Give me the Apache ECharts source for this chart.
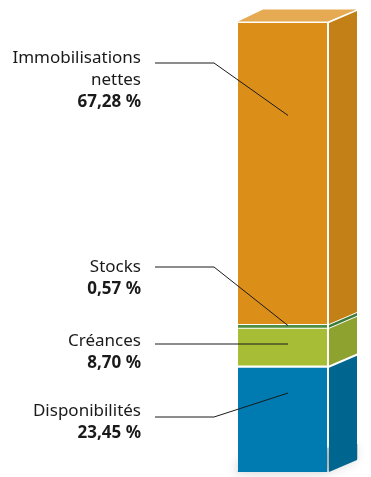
<!DOCTYPE html>
<html>
<head>
<meta charset="utf-8">
<script src="https://cdn.jsdelivr.net/npm/echarts@6/dist/echarts.min.js"></script>
<style>html,body{margin:0;padding:0;background:#fff;}#c{width:371px;height:477px;}</style>
</head>
<body>
<div id="c"></div>
<script>
// Data (bottom to top)
var categories = ['Disponibilités', 'Créances', 'Stocks', 'Immobilisations nettes'];
var nameLines = [['Disponibilités'], ['Créances'], ['Stocks'], ['Immobilisations', 'nettes']];
var values = [23.45, 8.70, 0.57, 67.28];
var valueLabels = ['23,45 %', '8,70 %', '0,57 %', '67,28 %'];

// styling / layout (not data)
var frontColors = ['#007bb1', '#a8bd36', '#4e8d3f', '#db8f19'];
var sideColors  = ['#006690', '#8ea22f', '#3f7a38', '#c38017'];
var topColor = '#e5aa52';
var labelLineY = [417, 344, 267, 63];
var labelTextY = [411, 341, 267, 58];
var anchorFrac = [0.75, 0.59, 0.8, 0.694];

var rows = [];
var acc = 0;
for (var i = 0; i < values.length; i++) {
  rows.push([0, acc, acc + values[i], i]);
  acc += values[i];
}

var DX = 28, DY = 12, GAP = 2;
var FONT = '"Noto Sans", sans-serif';

var chart = echarts.init(document.getElementById('c'), null, {renderer: 'canvas'});
chart.setOption({
  animation: false,
  grid: {left: 238, right: 44, top: 23, bottom: 5},
  xAxis: {type: 'category', data: ['Actif'], show: false},
  yAxis: {type: 'value', min: 0, max: 100, show: false},
  series: [{
    type: 'custom',
    data: rows,
    renderItem: function (params, api) {
      var idx = api.value(3);
      var pB = api.coord([0, api.value(1)]);
      var pT = api.coord([0, api.value(2)]);
      var bw = api.size([1, 0])[0];
      var xl = pB[0] - bw / 2, xr = pB[0] + bw / 2;
      var yb = pB[1], yt = pT[1];
      var children = [];
      if (idx === 0) {
        children.push({
          type: 'polygon',
          z2: 0,
          shape: {points: [[xl - 1, yb], [xr, yb], [xr + GAP + DX + 1, yb - DY - 1], [xr + GAP + DX + 1, yb - DY - 16], [xl + 6, yb - 14]]},
          style: {fill: 'rgba(120,120,120,0.35)', shadowBlur: 12, shadowOffsetX: -3, shadowOffsetY: 1, shadowColor: 'rgba(0,0,0,0.5)'}
        });
      }
      var top = (idx === values.length - 1);
      var thin = (yb - yt) < 6;
      var gt = (top || thin) ? 0 : 1.1;
      var gb = (idx === 0 || thin) ? 0 : 1.1;
      children.push({
        type: 'rect', z2: 5,
        shape: {x: xl, y: yt + gt, width: bw, height: (yb - gb) - (yt + gt)},
        style: {fill: frontColors[idx]}
      });
      var sx = xr + GAP;
      children.push({
        type: 'polygon', z2: 5,
        shape: {points: [[sx, yb - gb], [sx + DX, yb - gb - DY], [sx + DX, yt + gt - DY], [sx, yt + gt]]},
        style: {fill: sideColors[idx]}
      });
      if (top) {
        children.push({
          type: 'polygon', z2: 5,
          shape: {points: [[xl, yt - 1.6], [xr + 0.8, yt - 1.6], [sx + DX - 0.5, yt - DY - 1.4], [xl + DX - 3, yt - DY - 1.4]]},
          style: {fill: topColor}
        });
      }
      // label texts
      var lines = nameLines[idx];
      var ty = labelTextY[idx];
      for (var k = 0; k < lines.length; k++) {
        children.push({
          type: 'text', z2: 10,
          style: {text: lines[k], x: 141, y: ty + k * 22, align: 'right', verticalAlign: 'middle',
                  font: '400 17px ' + FONT, fill: '#1a1a1a'}
        });
      }
      children.push({
        type: 'text', z2: 10,
        style: {text: valueLabels[idx], x: 141, y: ty + lines.length * 22, align: 'right', verticalAlign: 'middle',
                font: '700 17px ' + FONT, fill: '#1a1a1a'}
      });
      // leader line
      var ay = api.coord([0, api.value(1) + anchorFrac[idx] * (api.value(2) - api.value(1))])[1];
      var ly = labelLineY[idx];
      var pts = idx === 1 ? [[155, ly], [288, ly]] : [[155, ly], [214, ly], [288, ay]];
      children.push({
        type: 'polyline', z2: 20,
        shape: {points: pts},
        style: {stroke: '#1a1a1a', lineWidth: 1, fill: null}
      });
      return {type: 'group', children: children};
    }
  }]
});
</script>
</body>
</html>
